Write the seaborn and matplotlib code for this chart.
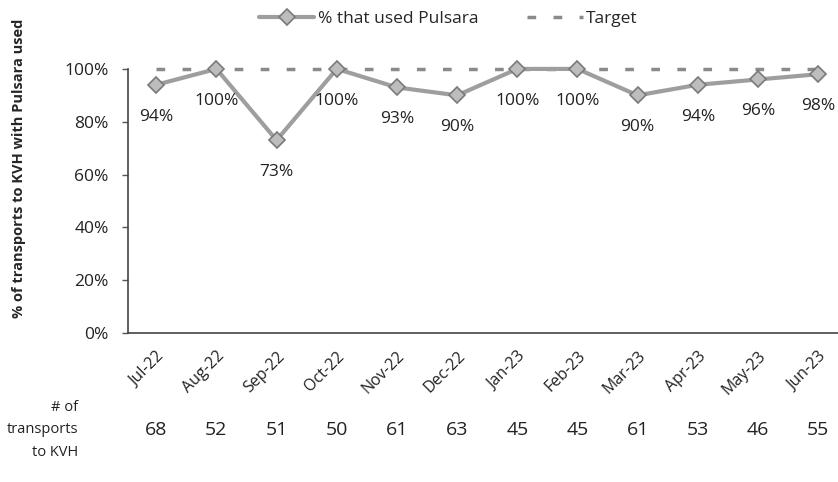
import numpy as np
import pandas as pd
import matplotlib
matplotlib.use("Agg")
import matplotlib.pyplot as plt
import seaborn as sns

# Data
months = ['Jul-22', 'Aug-22', 'Sep-22', 'Oct-22', 'Nov-22', 'Dec-22',
          'Jan-23', 'Feb-23', 'Mar-23', 'Apr-23', 'May-23', 'Jun-23']
pct_used = [0.94, 1.00, 0.73, 1.00, 0.93, 0.90, 1.00, 1.00, 0.90, 0.94, 0.96, 0.98]
target = [1.00] * 12
transports = [68, 52, 51, 50, 61, 63, 45, 45, 61, 53, 46, 55]
yticks = [0, 0.2, 0.4, 0.6, 0.8, 1.0]

sns.set_style('white')
plt.rcParams['font.family'] = ['Open Sans', 'DejaVu Sans']

df = pd.DataFrame({'pos': np.arange(len(months)), 'month': months,
                   'pct': pct_used, 'target': target})

fig = plt.figure(figsize=(8.38, 4.82), dpi=100)
ax = fig.add_axes([0.1527, 0.309, 0.8473, 0.548])

txt_col = '#222222'
sns.lineplot(data=df, x='pos', y='target', ax=ax, color='#8a8a8a', lw=2.5,
             dashes=False, label='Target', clip_on=False, zorder=2)
ax.lines[-1].set_dashes([2.5, 5])
sns.lineplot(data=df, x='pos', y='pct', ax=ax, color='#9e9e9e', lw=3,
             marker='D', markersize=8, markeredgecolor='#7a7a7a',
             markerfacecolor='#bdbdbd', markeredgewidth=1.2,
             label='% that used Pulsara', clip_on=False, zorder=3)

# data labels below points
for i, v in enumerate(pct_used):
    ax.annotate(f"{v:.0%}", (i, v), xytext=(0, -23), textcoords='offset points',
                ha='center', va='center', fontsize=12.5, color=txt_col)

ax.set_xlim(-0.47, 11.33)
ax.set_ylim(0, 1)
ax.set_yticks(yticks)
ax.set_yticklabels([f"{t:.0%}" for t in yticks], fontsize=12.5, color=txt_col)
ax.set_xticks(df['pos'])
ax.set_xticklabels(months, rotation=45, ha='right', rotation_mode='anchor',
                   fontsize=11.5, color=txt_col)
ax.tick_params(axis='y', length=4, width=1, color='#555555', left=True, pad=10)
ax.tick_params(axis='x', length=0, pad=11)
ax.set_xlabel('')
ax.set_ylabel('% of transports to KVH with Pulsara used', fontsize=10.5,
              fontweight='bold')
ax.yaxis.set_label_coords(-0.143, 0.625)

for s in ['top', 'right']:
    ax.spines[s].set_visible(False)
for s in ['left', 'bottom']:
    ax.spines[s].set_color('#444444')
    ax.spines[s].set_linewidth(1.2)

# counts row under the axis
xt = ax.get_xaxis_transform()
for i, n in enumerate(transports):
    ax.text(i, -0.367, str(n), transform=xt, ha='center', va='center',
            fontsize=14, color=txt_col)
ax.text(-1.30, -0.367, '# of\ntransports\nto KVH', transform=xt, ha='right',
        va='center', fontsize=10.5, color=txt_col, linespacing=1.65)

handles, labels = ax.get_legend_handles_labels()
ax.legend(handles[::-1], labels[::-1], loc='upper center',
          bbox_to_anchor=(0.535, 1.01), bbox_transform=fig.transFigure,
          ncol=2, frameon=False, fontsize=12.5, columnspacing=2.8,
          handlelength=3.2, handletextpad=0.2)

fig.savefig('out.png', dpi=100)
